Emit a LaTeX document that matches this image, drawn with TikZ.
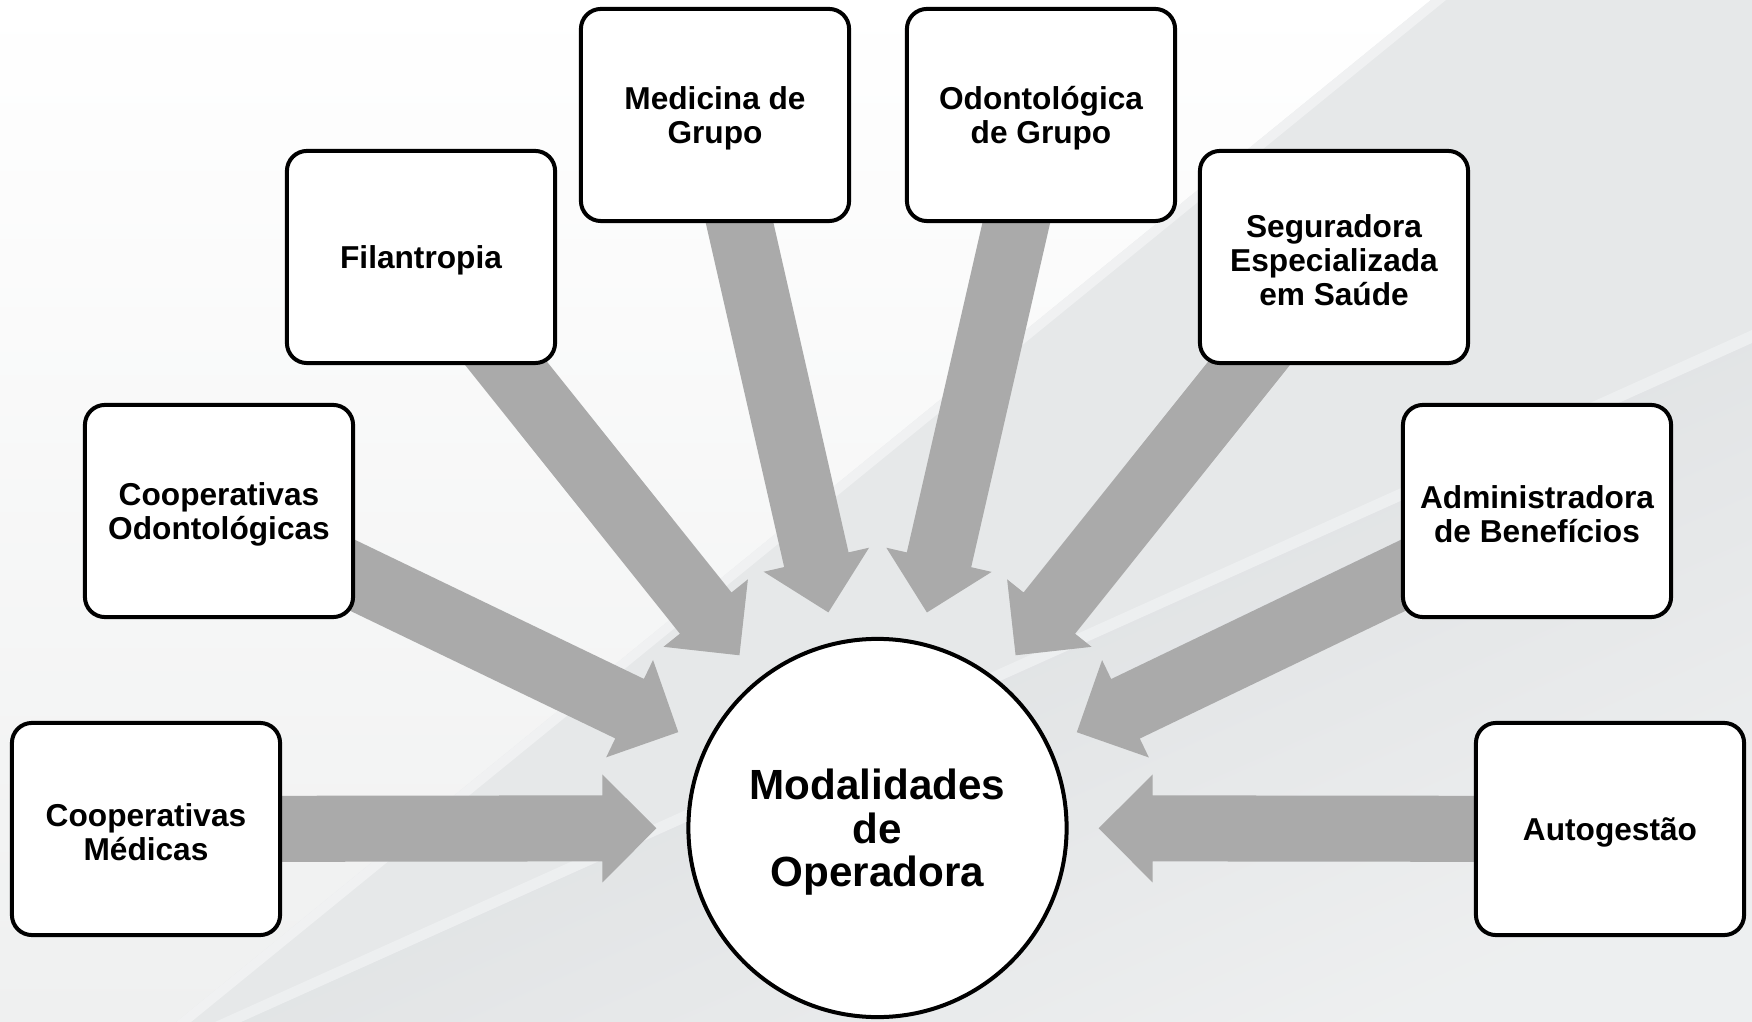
\documentclass[tikz,border=0pt]{standalone}
\usepackage{fontspec}
\setmainfont{Liberation Sans}
\usetikzlibrary{calc}

\definecolor{feedgray}{HTML}{AAAAAA}
\definecolor{paper}{HTML}{E6E8E9}
\definecolor{paperdark}{HTML}{D7DADC}
\definecolor{paperlight}{HTML}{EFF0F0}

\pgfdeclarelayer{backdrop}
\pgfdeclarelayer{feeds}
\pgfsetlayers{backdrop,feeds,main}

% struts that set the height of the first text line
\newcommand\boxstrut{\rule{0pt}{0.29cm}}
\newcommand\hubstrut{\rule{0pt}{0.39cm}}

\tikzset{
  kind/.style={draw=black, line width=0.04cm, fill=white, rounded corners=0.2cm,
    minimum width=2.68cm, minimum height=2.12cm, align=center, inner sep=0pt,
    font=\fontsize{9}{9.7}\selectfont\bfseries},
  hubnode/.style={circle, draw=black, line width=0.04cm, fill=white,
    minimum size=3.78cm, align=center, inner sep=0pt,
    font=\fontsize{12}{12.4}\selectfont\bfseries},
  feed/.style={fill=feedgray}
}

% block arrow from a category box towards the central circle
\newcommand\feedarrow[1]{%
  \path ($(hub.center)!2.75cm!(#1.center)$) coordinate (base-#1);
  \fill[feed] ($(hub.center)!2.21cm!(#1.center)$)
    -- ($(base-#1)!0.54cm!90:(#1.center)$)
    -- ($(base-#1)!0.33cm!90:(#1.center)$)
    -- ($(#1.center)!0.33cm!-90:(base-#1)$)
    -- ($(#1.center)!0.33cm!90:(base-#1)$)
    -- ($(base-#1)!0.33cm!-90:(#1.center)$)
    -- ($(base-#1)!0.54cm!-90:(#1.center)$)
    -- cycle;}

\begin{document}
\begin{tikzpicture}[x=0.01cm, y=-0.01cm]
\useasboundingbox (0,0) rectangle (1752,1022);

% category boxes
\node[kind] (cm)    at (146,829)  {\boxstrut Cooperativas\\Médicas};
\node[kind] (co)    at (219,511)  {\boxstrut Cooperativas\\Odontológicas};
\node[kind] (fil)   at (421,257)  {\boxstrut Filantropia};
\node[kind] (mg)    at (715,115)  {\boxstrut Medicina de\\Grupo};
\node[kind] (og)    at (1041,115) {\boxstrut Odontológica\\de Grupo};
\node[kind] (seg)   at (1334,257) {\boxstrut Seguradora\\Especializada\\em Saúde};
\node[kind] (adm)   at (1537,511) {\boxstrut Administradora\\de Benefícios};
\node[kind] (autog) at (1610,829) {\boxstrut Autogestão};

% central circle
\node[hubnode] (hub) at (877.5,828) {\hubstrut Modalidades\\de\\Operadora};

% arrows
\begin{pgfonlayer}{feeds}
  \foreach \k in {cm,co,fil,mg,og,seg,adm,autog} {\feedarrow{\k}}
\end{pgfonlayer}

% backdrop: pale grey sheet with a white wedge and a darker lower band
\begin{pgfonlayer}{backdrop}
  \fill[paper] (0,0) rectangle (1752,1022);
  \shade[top color=paperdark, bottom color=paper!70!white, shading angle=24]
    (1752,343) -- (1752,1022) -- (241,1022) -- cycle;
  \fill[white!30!paper] (1752,343) -- (1752,330) -- (215,1022) -- (241,1022) -- cycle;
  \shade[top color=white, bottom color=paperlight]
    (0,0) -- (1431,0) -- (176,1022) -- (0,1022) -- cycle;
  \fill[white!40!paper] (1431,0) -- (1446,0) -- (191,1022) -- (176,1022) -- cycle;
\end{pgfonlayer}
\end{tikzpicture}
\end{document}
